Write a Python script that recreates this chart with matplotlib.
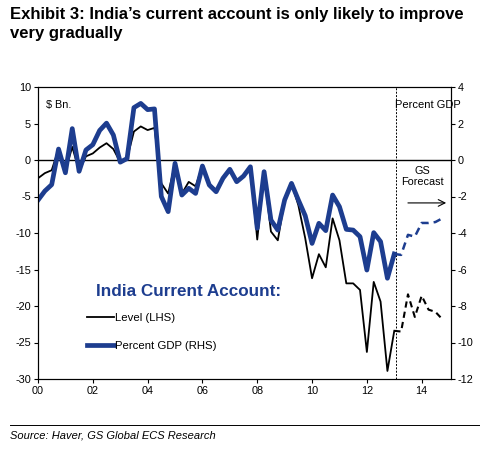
import matplotlib
matplotlib.use("Agg")
import matplotlib.pyplot as plt
import numpy as np

plt.rcParams['font.family'] = ['Liberation Sans', 'DejaVu Sans']
plt.rcParams['axes.unicode_minus'] = False

# quarterly, starting 2000 Q1
start_year = 2000
level_hist = [-2.5, -1.8, -1.4, 1.5, -1.5, 1.8, -1.5, 0.5, 0.9, 1.7,
              2.3, 1.5, -0.3, 0.2, 3.9, 4.6, 4.1, 4.4, -3.2, -4.6,
              -0.5, -4.6, -3.0, -3.6, -0.8, -3.3, -4.1, -2.5, -1.2, -2.8,
              -2.2, -0.9, -10.9, -1.8, -9.8, -11.0, -5.5, -3.2, -6.2, -10.7,
              -16.2, -12.9, -14.7, -8.0, -11.0, -16.9, -16.9, -17.8, -26.3, -16.7,
              -19.4, -28.9, -23.4]
level_fcst = [-23.4, -23.5, -18.4, -21.5, -18.6, -20.5, -20.8, -21.8]

pct_hist = [-2.2, -1.7, -1.35, 0.6, -0.7, 1.72, -0.62, 0.55, 0.84, 1.62,
            2.02, 1.37, -0.12, 0.08, 2.87, 3.1, 2.76, 2.8, -2.0, -2.83,
            -0.18, -1.92, -1.55, -1.83, -0.33, -1.37, -1.74, -1.0, -0.51, -1.19,
            -0.88, -0.37, -3.74, -0.64, -3.29, -3.84, -2.19, -1.28, -2.19, -3.05,
            -4.57, -3.47, -3.87, -1.92, -2.56, -3.8, -3.84, -4.2, -6.03, -3.98,
            -4.47, -6.48, -5.15]
pct_fcst = [-5.15, -5.2, -4.1, -4.2, -3.45, -3.45, -3.4, -3.2]

forecast_start = 2013.05
xticks = [2000, 2002, 2004, 2006, 2008, 2010, 2012, 2014]
xticklabels = ['00', '02', '04', '06', '08', '10', '12', '14']

blue = '#1d3d8f'

x_hist = start_year + 0.25 * np.arange(len(pct_hist))
x_fcst = x_hist[-1] + 0.25 * np.arange(len(pct_fcst))

fig = plt.figure(figsize=(4.8, 4.51), dpi=100)
ax = fig.add_axes([38/480, 1 - 379/451, (451-38)/480, (379-87)/451])
ax2 = ax.twinx()

ax.plot(x_hist, level_hist, color='black', lw=1.3)
ax.plot(x_fcst, level_fcst, color='black', lw=1.5, ls=(0, (3, 2)))
ax2.plot(x_hist, pct_hist, color=blue, lw=3.4)
ax2.plot(x_fcst, pct_fcst, color=blue, lw=1.8, ls=(0, (3, 2)))

ax.axhline(0, color='black', lw=1)
ax.axvline(forecast_start, color='black', lw=0.7, ls=(0, (2, 1.5)))

ax.set_xlim(2000, 2015.07)
ax.set_ylim(-30, 10)
ax2.set_ylim(-12, 4)
ax.set_yticks(range(-30, 11, 5))
ax2.set_yticks(range(-12, 5, 2))
ax.set_xticks(xticks)
ax.set_xticklabels(xticklabels)
for a in (ax, ax2):
    a.tick_params(labelsize=7.8, length=3, width=0.8, pad=2)
    for s in a.spines.values():
        s.set_linewidth(0.8)

ax.text(0.02, 0.955, '$ Bn.', transform=ax.transAxes, fontsize=7.8, va='top')
ax.text(0.945, 0.955, 'Percent GDP', transform=ax.transAxes, fontsize=8,
        va='top', ha='center')
ax.text(0.931, 0.728, 'GS\nForecast', transform=ax.transAxes, fontsize=7.8,
        va='top', ha='center', linespacing=1.1)
ax.annotate('', xy=(0.995, 0.603), xytext=(0.889, 0.603), xycoords='axes fraction',
            arrowprops=dict(arrowstyle='->', lw=0.8, color='black',
                            mutation_scale=12))

ax.text(0.14, 0.298, 'India Current Account:', transform=ax.transAxes,
        fontsize=12.3, fontweight='bold', color=blue, va='center')
h1, = ax.plot([], [], color='black', lw=1.3)
h2, = ax.plot([], [], color=blue, lw=3.4)
ax2.legend([h1, h2], ['Level (LHS)', 'Percent GDP (RHS)'], frameon=False,
           fontsize=8.2, loc='upper left', bbox_to_anchor=(0.118, 0.226),
           handlelength=2.4, handletextpad=0.1, labelspacing=1.55,
           borderaxespad=0, borderpad=0)

fig.text(10/480, 1 - 24/451, "Exhibit 3: India\u2019s current account is only likely to improve\nvery gradually",
         fontsize=12, fontweight='bold', va='center', linespacing=1.3)
fig.add_artist(plt.Line2D([10/480, 1], [1 - 425/451] * 2, color='black', lw=0.7))
fig.text(10/480, 1 - 436/451, 'Source: Haver, GS Global ECS Research',
         fontsize=8, style='italic', va='center')

fig.savefig('out.png', dpi=100)
